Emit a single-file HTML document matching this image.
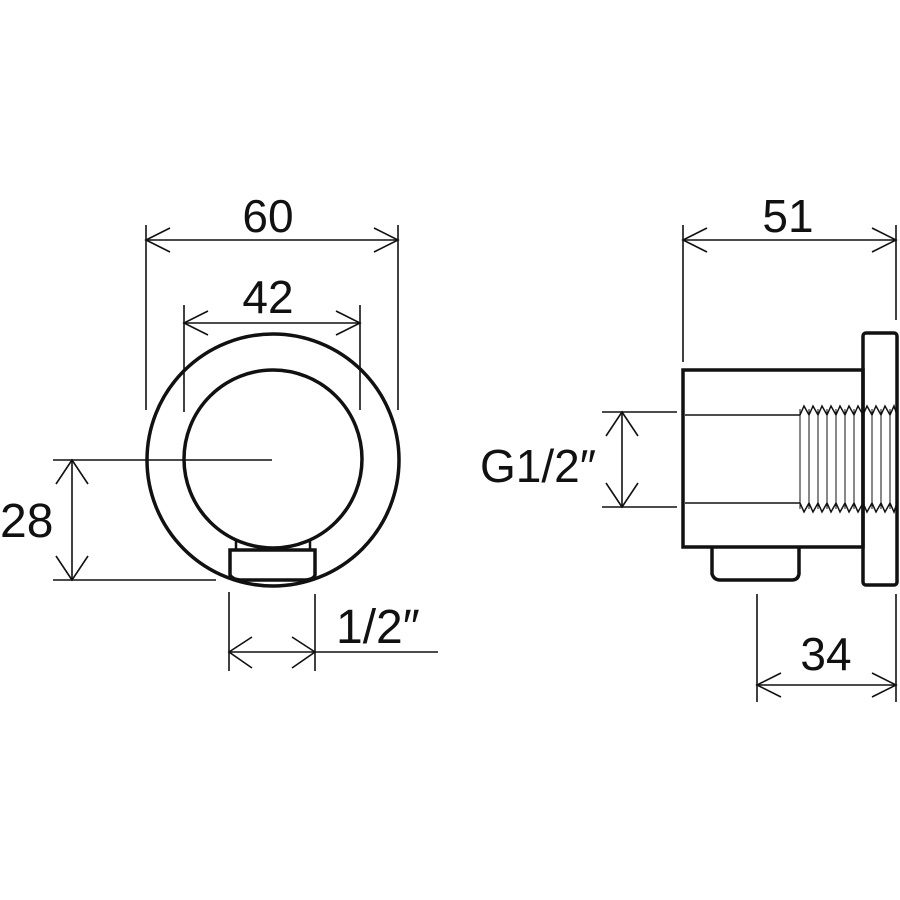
<!DOCTYPE html>
<html><head><style>html,body{margin:0;padding:0;background:#fff}svg{display:block}text{font-family:"Liberation Sans",sans-serif;fill:#111}</style></head>
<body>
<svg width="900" height="900" viewBox="0 0 900 900" xmlns="http://www.w3.org/2000/svg">
<g fill="none" stroke="#111" stroke-width="1.6">
<!-- 60 -->
<line x1="146" y1="225" x2="146" y2="410"/><line x1="398" y1="225" x2="398" y2="410"/>
<line x1="146" y1="240" x2="398" y2="240"/>
<polyline points="170,228 146,240 170,252"/><polyline points="374,228 398,240 374,252"/>
<!-- 42 -->
<line x1="184" y1="305" x2="184" y2="412"/><line x1="360" y1="305" x2="360" y2="410"/>
<line x1="184" y1="323" x2="360" y2="323"/>
<polyline points="208,311 184,323 208,335"/><polyline points="336,311 360,323 336,335"/>
<!-- 28 -->
<line x1="53" y1="460" x2="272" y2="460"/><line x1="53" y1="580" x2="216" y2="580"/>
<line x1="72" y1="460" x2="72" y2="580"/>
<polyline points="56,484 72,460 88,484"/><polyline points="56,556 72,580 88,556"/>
<!-- 1/2 -->
<line x1="229" y1="592" x2="229" y2="671"/><line x1="315" y1="594" x2="315" y2="671"/>
<line x1="229" y1="652" x2="438" y2="652"/>
<polyline points="252,637 229,652 252,668"/><polyline points="292,637 315,652 292,668"/>
<!-- G1/2 -->
<line x1="602" y1="412" x2="677" y2="412"/><line x1="602" y1="507" x2="677" y2="507"/>
<line x1="622" y1="412" x2="622" y2="507"/>
<polyline points="606,436 622,412 638,436"/><polyline points="606,483 622,507 638,483"/>
<!-- 51 -->
<line x1="683" y1="225" x2="683" y2="362"/><line x1="896" y1="225" x2="896" y2="320"/>
<line x1="683" y1="240" x2="896" y2="240"/>
<polyline points="707,228 683,240 707,252"/><polyline points="872,228 896,240 872,252"/>
<!-- 34 -->
<line x1="757" y1="594" x2="757" y2="702"/><line x1="896" y1="594" x2="896" y2="702"/>
<line x1="757" y1="685" x2="896" y2="685"/>
<polyline points="781,673 757,685 781,697"/><polyline points="872,673 896,685 872,697"/>
</g>
<g fill="none" stroke="#111" stroke-width="3.5">
<circle cx="273" cy="460" r="126"/>
<circle cx="273" cy="459" r="89"/>
<path d="M230,550 L230,575 Q232,579 240,580 L306,580 Q314,579 315,575 L315,550 Z" fill="#fff"/>
<path d="M236,550 L236,540 M310,550 L310,540" stroke-width="2.5"/>
<!-- right view -->
<rect x="683" y="370" width="180" height="177"/>
<rect x="863" y="333" width="34" height="252" rx="3"/>
<path d="M712,547 L712,574 Q714,580 720,580 L792,580 Q798,580 799,574 L799,547"/>
</g>
<g fill="none" stroke="#111" stroke-width="1.5">
<line x1="685" y1="415" x2="800" y2="415"/><line x1="685" y1="503" x2="800" y2="503"/>
<polyline points="800,415 804,406 809,415 813,406 818,415 822,406 827,415 831,406 836,415 840,406 845,415 849,406 854,415 858,406 863,415 867,406 872,415 876,406 881,415 885,406 890,415 894,406 897,415"/>
<polyline points="800,503 804,512 809,503 813,512 818,503 822,512 827,503 831,512 836,503 840,512 845,503 849,512 854,503 858,512 863,503 867,512 872,503 876,512 881,503 885,512 890,503 894,512 897,503"/>
<g stroke-width="1">
<line x1="800" y1="409" x2="800" y2="509"/><line x1="809" y1="409" x2="809" y2="509"/><line x1="818" y1="409" x2="818" y2="509"/><line x1="827" y1="409" x2="827" y2="509"/><line x1="836" y1="409" x2="836" y2="509"/><line x1="845" y1="409" x2="845" y2="509"/><line x1="854" y1="409" x2="854" y2="509"/><line x1="872" y1="409" x2="872" y2="509"/><line x1="881" y1="409" x2="881" y2="509"/><line x1="890" y1="409" x2="890" y2="509"/>
</g>
</g>
<text x="268" y="232" font-size="46" text-anchor="middle">60</text>
<text x="268" y="313" font-size="46" text-anchor="middle">42</text>
<text x="0" y="537" font-size="48">28</text>
<text x="336" y="643" font-size="48">1/2″</text>
<text x="480" y="482" font-size="46">G1/2″</text>
<text x="788" y="232" font-size="46" text-anchor="middle">51</text>
<text x="826" y="670" font-size="46" text-anchor="middle">34</text>
</svg>
</body></html>
